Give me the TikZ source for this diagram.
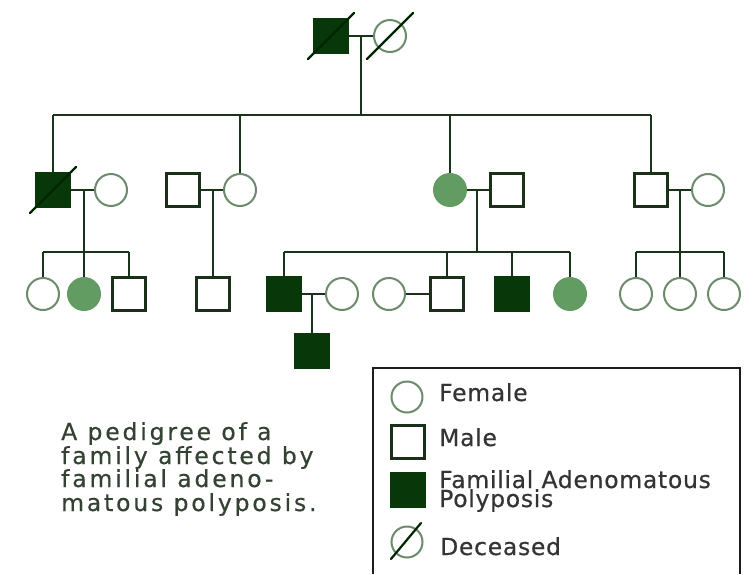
\documentclass[tikz,border=0pt]{standalone}
\usepackage{fontspec}
\newfontfamily\legendfont[LetterSpace=3,FakeBold=0.5]{DejaVu Sans}
\newfontfamily\captionfont[LetterSpace=12,FakeBold=0.5]{DejaVu Sans}
\definecolor{affected}{RGB}{8,56,10}
\definecolor{carrier}{RGB}{98,156,98}
\definecolor{femline}{RGB}{108,138,108}
\definecolor{maleline}{RGB}{26,48,26}
\definecolor{linkcol}{RGB}{26,52,26}
\definecolor{legtext}{RGB}{52,52,52}
\definecolor{captext}{RGB}{52,66,52}
\definecolor{framecol}{RGB}{28,28,28}

\tikzset{
  male/.style={rectangle, draw=maleline, line width=2.4pt, fill=white, minimum size=33pt, inner sep=0pt},
  fem/.style={circle, draw=femline, line width=2pt, fill=white, minimum size=32pt, inner sep=0pt},
  affm/.style={male, draw=affected, fill=affected},
  afff/.style={fem, draw=carrier, fill=carrier},
  link/.style={draw=linkcol, line width=2.4pt},
  slash/.style={draw=black!85!green, line width=2.2pt, line cap=round},
  legendtxt/.style={anchor=base west, inner sep=0pt, text=legtext, font=\legendfont\fontsize{23.5}{24}\selectfont},
  captiontxt/.style={anchor=base west, inner sep=0pt, text=captext, font=\captionfont\fontsize{23.5}{24}\selectfont}
}

\begin{document}
\begin{tikzpicture}[x=1pt, y={(0pt,-1pt)}]
\useasboundingbox[fill=white] (0,0) rectangle (753,574);

% generation I
\node[affm] (I1) at (331,36) {};
\node[fem]  (I2) at (390,36) {};

% generation II
\node[affm] (II1) at (53,190) {};
\node[fem]  (II2) at (111,190) {};
\node[male] (II3) at (183,190) {};
\node[fem]  (II4) at (240,190) {};
\node[afff] (II5) at (450,190) {};
\node[male] (II6) at (507,190) {};
\node[male] (II7) at (651,190) {};
\node[fem]  (II8) at (708,190) {};

% generation III
\node[fem]  (III1)  at (43,294) {};
\node[afff] (III2)  at (84,294) {};
\node[male] (III3)  at (129,294) {};
\node[male] (III4)  at (213,294) {};
\node[affm] (III5)  at (284,294) {};
\node[fem]  (III6)  at (342,294) {};
\node[fem]  (III7)  at (389,294) {};
\node[male] (III8)  at (447,294) {};
\node[affm] (III9)  at (512,294) {};
\node[afff] (III10) at (570,294) {};
\node[fem]  (III11) at (636,294) {};
\node[fem]  (III12) at (680,294) {};
\node[fem]  (III13) at (724,294) {};

% generation IV
\node[affm] (IV1) at (312,351) {};

% marriage junctions and sibship bars
\coordinate (m1) at (361,36);   \coordinate (bar1) at (361,115);
\coordinate (m2) at (84,190);   \coordinate (bar2) at (84,252);
\coordinate (m3) at (213,190);
\coordinate (m4) at (477,190);  \coordinate (bar4) at (477,252);
\coordinate (m5) at (680,190);  \coordinate (bar5) at (680,252);
\coordinate (m6) at (312,294);

% couples
\draw[link] (I1) -- (I2);
\draw[link] (II1) -- (II2);
\draw[link] (II3) -- (II4);
\draw[link] (II5) -- (II6);
\draw[link] (II7) -- (II8);
\draw[link] (III5) -- (III6);
\draw[link] (III7) -- (III8);

% descent lines, generation I to II
\draw[link] (m1) -- (bar1);
\draw[link] (II1.north |- bar1) -- (II7.north |- bar1);
\foreach \n in {II1,II4,II5,II7} \draw[link] (\n.north |- bar1) -- (\n.north);

% descent lines, generation II to III
\draw[link] (m2) -- (III2.north);
\draw[link] (III1.north |- bar2) -- (III3.north |- bar2);
\foreach \n in {III1,III3} \draw[link] (\n.north |- bar2) -- (\n.north);

\draw[link] (m3) -- (III4.north);

\draw[link] (m4) -- (bar4);
\draw[link] (III5.north |- bar4) -- (III10.north |- bar4);
\foreach \n in {III5,III8,III9,III10} \draw[link] (\n.north |- bar4) -- (\n.north);

\draw[link] (m5) -- (III12.north);
\draw[link] (III11.north |- bar5) -- (III13.north |- bar5);
\foreach \n in {III11,III13} \draw[link] (\n.north |- bar5) -- (\n.north);

% descent line, generation III to IV
\draw[link] (m6) -- (IV1.north);

% deceased marks
\foreach \n in {I1,I2,II1}
  \draw[slash] ([shift={(-23,23)}]\n.center) -- ([shift={(23,-23)}]\n.center);

% legend
\draw[draw=framecol, line width=2pt] (373,574) -- (373,368) -- (740,368) -- (740,574);
\node[fem, minimum size=31pt]  (L1) at (407,397) {};
\node[male] (L2) at (408,442) {};
\node[affm] (L3) at (408,490) {};
\node[fem, minimum size=31pt]  (L4) at (407,542) {};
\draw[slash] ([shift={(-16,17)}]L4.center) -- ([shift={(14,-19)}]L4.center);

\node[legendtxt] (t1) at (439,401) {Female};
\node[legendtxt] (t2) at (439,446) {Male};
\node[legendtxt] (t3) at (439,488) {Familial Adenomatous};
\node[legendtxt] (t4) at (439,507) {Polyposis};
\node[legendtxt] (t5) at (440,555) {Deceased};

% caption
\node[captiontxt] (c1) at (61,440) {A pedigree of a};
\node[captiontxt] (c2) at (61,464) {family affected by};
\node[captiontxt] (c3) at (61,487) {familial adeno-};
\node[captiontxt] (c4) at (61,511) {matous polyposis.};
\end{tikzpicture}
\end{document}
